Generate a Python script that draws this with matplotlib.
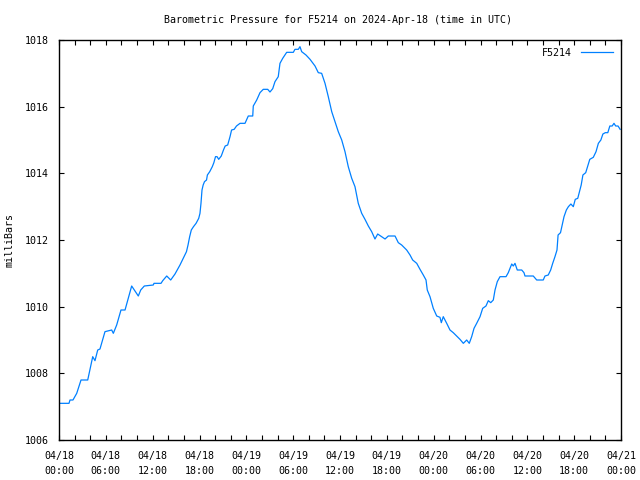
import matplotlib
matplotlib.use("Agg")
import matplotlib.pyplot as plt
import numpy as np

# hours since 2024-04-18 00:00 UTC, pressure in mb
hours = [0.0, 1.28, 1.41, 1.79, 2.27, 2.82, 3.68, 4.32, 4.61, 4.96, 5.25, 5.89,
         6.75, 6.96, 7.39, 7.94, 8.46, 8.88, 9.31, 10.16, 10.47, 10.93, 12.08,
         12.17, 13.07, 13.29, 13.80, 14.31, 14.86, 15.50, 15.91, 16.33, 16.53,
         16.74, 16.95, 17.23, 17.56, 17.90, 18.06, 18.19, 18.32, 18.47, 18.64,
         18.90, 19.01, 19.31, 19.64, 19.84, 20.05, 20.25, 20.46, 20.79, 21.07,
         21.29, 21.61, 21.91, 22.11, 22.44, 22.74, 23.19, 23.83, 24.25, 24.82,
         24.89, 25.33, 25.75, 26.17, 26.74, 27.03, 27.38, 27.67, 28.09, 28.31,
         28.66, 29.17, 30.02, 30.23, 30.66, 30.87, 31.09, 31.64, 32.16, 32.80,
         33.22, 33.65, 34.08, 34.50, 34.94, 35.36, 35.78, 36.22, 36.64, 37.06,
         37.50, 37.92, 38.34, 38.78, 39.20, 39.63, 40.06, 40.48, 40.83, 41.34,
         41.77, 42.19, 43.05, 43.47, 43.90, 44.54, 44.97, 45.31, 45.83, 46.25,
         46.67, 47.02, 47.18, 47.53, 47.95, 48.39, 48.81, 48.98, 49.23, 49.67,
         50.09, 50.51, 50.95, 51.37, 51.80, 52.23, 52.56, 52.87, 53.17, 53.51,
         53.94, 54.28, 54.70, 55.00, 55.31, 55.64, 55.86, 56.15, 56.50, 57.27,
         57.56, 58.00, 58.20, 58.42, 58.71, 59.28, 59.57, 59.70, 60.76, 61.20,
         62.04, 62.26, 62.68, 62.99, 63.25, 63.54, 63.80, 63.94, 64.25, 64.46,
         64.70, 65.00, 65.26, 65.58, 65.89, 66.14, 66.46, 66.68, 66.90, 67.12,
         67.48, 67.78, 68.00, 68.45, 68.80, 69.10, 69.42, 69.68, 69.99, 70.31,
         70.57, 70.87, 71.10, 71.32, 71.62, 71.89]
pressure = [1007.1, 1007.1, 1007.2, 1007.2, 1007.4, 1007.8, 1007.8, 1008.5,
            1008.38, 1008.7, 1008.73, 1009.25, 1009.3, 1009.2, 1009.45, 1009.9,
            1009.9, 1010.25, 1010.62, 1010.32, 1010.5, 1010.62, 1010.65, 1010.7,
            1010.7, 1010.78, 1010.92, 1010.8, 1010.98, 1011.25, 1011.45, 1011.65,
            1011.85, 1012.1, 1012.3, 1012.4, 1012.5, 1012.65, 1012.8, 1013.1,
            1013.5, 1013.65, 1013.75, 1013.8, 1013.95, 1014.05, 1014.2, 1014.32,
            1014.5, 1014.5, 1014.42, 1014.52, 1014.7, 1014.82, 1014.85, 1015.1,
            1015.3, 1015.32, 1015.42, 1015.5, 1015.5, 1015.72, 1015.72, 1016.02,
            1016.2, 1016.42, 1016.52, 1016.52, 1016.44, 1016.54, 1016.75, 1016.9,
            1017.3, 1017.45, 1017.63, 1017.63, 1017.72, 1017.72, 1017.8, 1017.65,
            1017.55, 1017.42, 1017.22, 1017.02, 1017.0, 1016.7, 1016.3, 1015.85,
            1015.55, 1015.25, 1015.0, 1014.65, 1014.2, 1013.85, 1013.6, 1013.1,
            1012.8, 1012.62, 1012.42, 1012.25, 1012.03, 1012.18, 1012.1, 1012.03,
            1012.12, 1012.12, 1011.92, 1011.85, 1011.7, 1011.55, 1011.4, 1011.3,
            1011.12, 1010.95, 1010.8, 1010.5, 1010.3, 1009.95, 1009.72, 1009.68,
            1009.52, 1009.7, 1009.5, 1009.3, 1009.22, 1009.12, 1009.02, 1008.9,
            1009.0, 1008.9, 1009.1, 1009.35, 1009.5, 1009.7, 1009.95, 1010.02,
            1010.18, 1010.12, 1010.2, 1010.5, 1010.75, 1010.9, 1010.9, 1011.02,
            1011.28, 1011.22, 1011.3, 1011.1, 1011.1, 1011.02, 1010.92, 1010.92,
            1010.8, 1010.8, 1010.92, 1010.95, 1011.1, 1011.3, 1011.5, 1011.7,
            1012.15, 1012.22, 1012.45, 1012.7, 1012.9, 1013.0, 1013.08, 1013.0,
            1013.22, 1013.25, 1013.45, 1013.65, 1013.95, 1014.02, 1014.25, 1014.42,
            1014.48, 1014.65, 1014.9, 1015.0, 1015.18, 1015.22, 1015.22, 1015.42,
            1015.42, 1015.5, 1015.42, 1015.42, 1015.32]

days = ["04/18", "04/19", "04/20", "04/21"]
clock = ["00:00", "06:00", "12:00", "18:00"]

plt.rcParams['font.family'] = 'DejaVu Sans Mono'
plt.rcParams['font.size'] = 7.2

fig = plt.figure(figsize=(6.4, 4.8), dpi=100)
ax = fig.add_axes([59 / 640, 40 / 480, 562 / 640, 400 / 480])

ax.plot(hours, pressure, color='#0080ff', lw=0.9, label='F5214')

ax.set_xlim(0, 72)
ax.set_ylim(1006, 1018)

xt = np.arange(0, 73, 2)
xl = []
for h in xt:
    if h % 6 == 0:
        xl.append(days[h // 24] + "\n" + clock[(h % 24) // 6])
    else:
        xl.append("")
ax.set_xticks(xt)
ax.set_xticklabels(xl, linespacing=1.6)
ax.set_yticks(np.arange(1006, 1019, 2))

ax.tick_params(direction='in', length=3.5, width=0.8, top=True, right=True)
ax.tick_params(axis='x', pad=8)
ax.tick_params(axis='y', pad=7)
for s in ax.spines.values():
    s.set_linewidth(1.0)

fig.text(338 / 640, 1 - 20 / 480, "Barometric Pressure for F5214 on 2024-Apr-18 (time in UTC)",
         ha='center', va='center')
fig.text(10 / 640, 0.5, "milliBars", rotation=90, ha='center', va='center')

ax.legend(loc='upper right', frameon=False, markerfirst=False, handlelength=3.2,
          borderaxespad=0.4, handletextpad=0.9)

fig.savefig("out.png", dpi=100)
